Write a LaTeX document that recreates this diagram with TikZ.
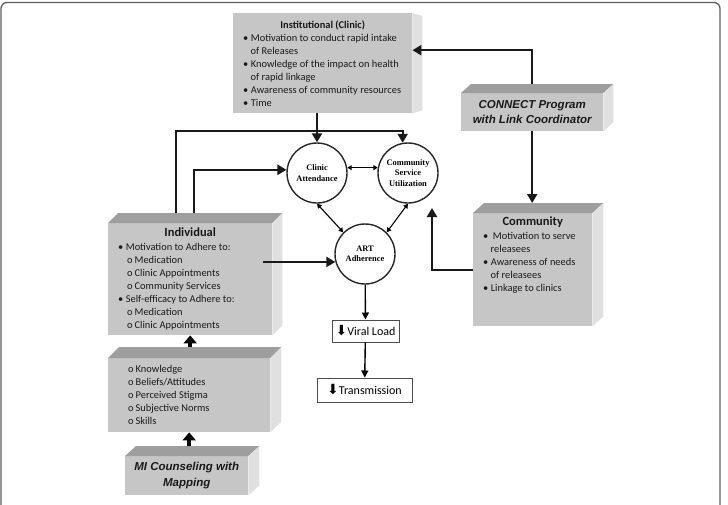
\documentclass[tikz,border=0pt]{standalone}
\usepackage{fontspec}
\setmainfont{Carlito}
\newfontfamily\circfont{Liberation Serif}
\newfontfamily\headfont{Liberation Sans}
\newfontfamily\symfont{DejaVu Sans}
\usetikzlibrary{arrows.meta,calc,positioning}
\definecolor{facegray}{RGB}{198,198,198}
\definecolor{topgray}{RGB}{158,158,158}
\definecolor{sidegray}{RGB}{224,224,224}
\definecolor{framegray}{RGB}{95,95,95}
\newlength{\listw}
\newcommand{\bitem}[1]{\makebox[\listw][l]{\textbullet\hspace{2.5pt}#1}}
\newcommand{\bcont}[1]{\makebox[\listw][l]{\hspace{7.5pt}#1}}
\newcommand{\oitem}[1]{\makebox[\listw][l]{o\hspace{2pt}#1}}
\newcommand{\oitemi}[1]{\makebox[\listw][l]{\hspace{9pt}o\hspace{2pt}#1}}
\newcommand{\boxsides}[3]{%
 \fill[topgray] (#1.north west) -- ++(#2,-#3) -- ($(#1.north east)+(#2,-#3)$) -- (#1.north east) -- cycle;
 \fill[sidegray] (#1.north east) -- ++(#2,-#3) -- ($(#1.south east)+(#2,-#3)$) -- (#1.south east) -- cycle;
 \coordinate (#1-top) at ($(#1.north)+(#2,-#3)$);}

\begin{document}
\begin{tikzpicture}[x=1pt,y=-1pt,line cap=butt,
 facebox/.style={fill=facegray,inner sep=0,align=center,anchor=north west,text=black!90,
  font=\fontsize{10.4}{13}\selectfont},
 boldhead/.style={font=\headfont\bfseries\itshape\fontsize{11.5}{15.5}\selectfont},
 circ/.style={circle,draw=black!85,line width=1.4pt,fill=white,minimum size=60,inner sep=0,
  align=center,font=\circfont\bfseries\fontsize{8.4}{10.5}\selectfont},
 valuebox/.style={draw=black!70,line width=1pt,fill=white,inner sep=0,
  font=\fontsize{12}{14}\selectfont},
 link/.style={line width=2.2pt,black!90,-{Triangle[length=9pt,width=10pt]}},
 duo/.style={line width=1.1pt,{Triangle[length=4.5pt,width=5pt]}-{Triangle[length=4.5pt,width=5pt]}},
 flow/.style={line width=1.4pt,-{Triangle[length=7pt,width=7pt]}},
 fat/.style={line width=4.5pt,-{Triangle[length=8pt,width=13pt]}}]
% współrzędne w pikselach obrazu (1px = 1pt), oś y w dół
\useasboundingbox (0,0) rectangle (728,504);
\draw[framegray,line width=1.3pt,rounded corners=6pt] (1,540) -- (1,2.5) -- (720,2.5) -- (720,540);

% skrzynki
\setlength{\listw}{159pt}
\node[facebox,minimum width=179,minimum height=100] (inst) at (233,13)
 {\textbf{Institutional (Clinic)}\\
  \bitem{Motivation to conduct rapid intake}\\ \bcont{of Releases}\\
  \bitem{Knowledge of the impact on health}\\ \bcont{of rapid linkage}\\
  \bitem{Awareness of community resources}\\ \bitem{Time}};
\fill[sidegray] (inst.north east) -- ++(10,3) -- ($(inst.south east)+(10,-3)$) -- (inst.south east) -- cycle;

\node[facebox,boldhead,minimum width=142,minimum height=38] (conn) at (461,93)
 {CONNECT Program\\with Link Coordinator};
\boxsides{conn}{10}{9}

\node[facebox,minimum width=119,minimum height=113] (comm) at (473,213) {};
\boxsides{comm}{11}{10}
\setlength{\listw}{99pt}
\node[facebox,fill=none,anchor=north] (commtxt) at ([yshift=-4pt]comm.north)
 {{\fontsize{12.5}{14}\selectfont\bfseries Community}\\[1pt]
  \bitem{\hspace{2pt}Motivation to serve}\\ \bcont{releasees}\\
  \bitem{Awareness of needs}\\ \bcont{of releasees}\\ \bitem{Linkage to clinics}};

\setlength{\listw}{144pt}
\node[facebox,minimum width=164,minimum height=112] (ind) at (108,223)
 {{\fontsize{12.5}{14}\selectfont\bfseries Individual}\\[1pt]
  \bitem{Motivation to Adhere to:}\\ \oitemi{Medication}\\ \oitemi{Clinic Appointments}\\
  \oitemi{Community Services}\\ \bitem{Self-efficacy to Adhere to:}\\
  \oitemi{Medication}\\ \oitemi{Clinic Appointments}};
\boxsides{ind}{10}{10}

\setlength{\listw}{122pt}
\node[facebox,minimum width=162,minimum height=74] (know) at (108,358)
 {\oitem{Knowledge}\\ \oitem{Beliefs/Attitudes}\\ \oitem{Perceived Stigma}\\
  \oitem{Subjective Norms}\\ \oitem{Skills}};
\boxsides{know}{11}{11}

\node[facebox,boldhead,minimum width=123,minimum height=39] (mi) at (125,456)
 {MI Counseling with\\Mapping};
\boxsides{mi}{11}{10}

% koła i wyniki
\node[circ] (clinic) at (317,173) {Clinic\\Attendance};
\node[circ] (cs) at (408,173) {Community\\Service\\Utilization};
\node[circ] (art) at (365,254) {ART\\Adherence};
\node[valuebox,minimum width=67,minimum height=22] (viral) at (365.5,331)
 {{\symfont\fontsize{14}{14}\selectfont\raisebox{-0.5pt}{⬇}}Viral Load};
\node[valuebox,minimum width=95,minimum height=24] (trans) at (364.5,390)
 {{\symfont\fontsize{14}{14}\selectfont\raisebox{-0.5pt}{⬇}}Transmission};

% połączenia
\coordinate (ja) at (176,131);
\coordinate (jb) at (194,170);
\coordinate (jc) at (432,208);
\draw[link] (clinic.north |- inst.south) -- (clinic.north);
\draw[link] (ja |- ind-top) -- (ja) -| (cs.100);
\draw[link] (jb |- ind-top) |- (clinic.174);
\draw[link] ([xshift=-9pt]ind.east |- art.195) -- (art.195);
\draw[link] (comm.west) -| (jc);
\draw[link] (conn.north |- conn-top) |- ([yshift=13pt]inst.east);
\draw[link] (conn.south) -- (conn.south |- comm-top);
\draw[duo] (clinic.10) -- (cs.170);
\draw[duo] (clinic.south) -- (art.135);
\draw[duo] (cs.south) -- (art.45);
\draw[flow] (art) -- (viral);
\draw[flow] (viral) -- (trans);
\draw[fat] (ind.south |- know-top) -- (ind.south);
\draw[fat] (know.south |- mi-top) -- (know.south);
\end{tikzpicture}
\end{document}
